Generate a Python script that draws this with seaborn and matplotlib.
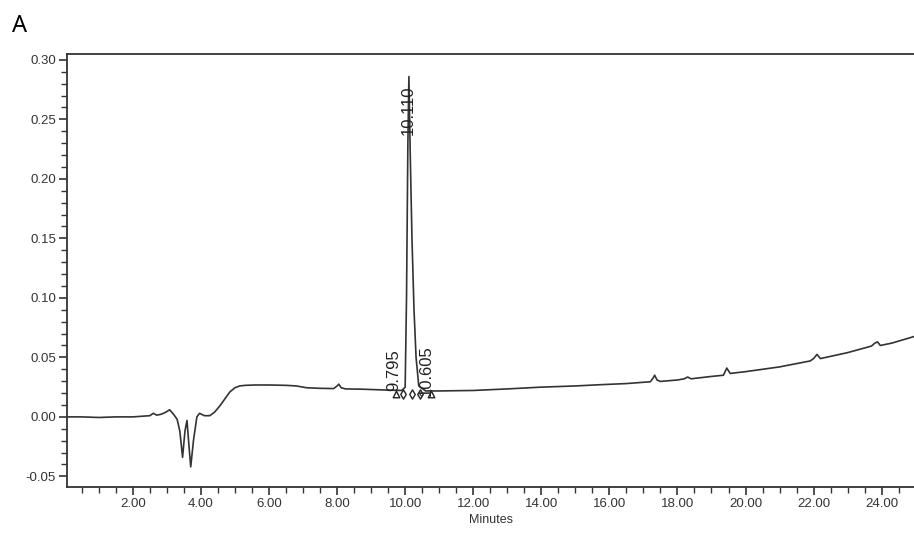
import numpy as np
import pandas as pd
import matplotlib
matplotlib.use("Agg")
import matplotlib.pyplot as plt
import seaborn as sns
from matplotlib.ticker import MultipleLocator, FormatStrFormatter

# retention time (min) and detector response
minutes = [0.07, 0.5, 1.0, 1.5, 2.0, 2.5, 2.6, 2.7, 2.8, 2.9, 3.0, 3.08, 3.2, 3.3,
           3.38, 3.46, 3.53, 3.59, 3.65, 3.70, 3.78, 3.88, 3.96, 4.1, 4.26, 4.4,
           4.55, 4.7, 4.85, 5.0, 5.14, 5.3, 5.6, 6.0, 6.5, 6.8, 7.1, 7.5, 7.9,
           8.0, 8.05, 8.12, 8.25, 8.7, 9.2, 9.6, 9.9, 10.0, 10.04, 10.08, 10.11,
           10.15, 10.2, 10.26, 10.32, 10.4, 10.6, 11.0, 12.0, 13.0, 14.0, 15.0,
           15.7, 16.5, 17.2, 17.27, 17.33, 17.4, 17.5, 18.0, 18.2, 18.3, 18.4,
           19.0, 19.35, 19.45, 19.55, 20.0, 21.0, 21.9, 22.0, 22.1, 22.2, 23.0,
           23.7, 23.8, 23.88, 23.96, 24.3, 24.95]
response = [0.0, 0.0, -0.0005, 0.0, 0.0, 0.001, 0.003, 0.0015, 0.002, 0.003,
            0.0045, 0.006, 0.002, -0.002, -0.012, -0.034, -0.012, -0.003, -0.025,
            -0.042, -0.02, 0.0, 0.003, 0.001, 0.001, 0.004, 0.009, 0.015, 0.021,
            0.0245, 0.026, 0.0265, 0.0268, 0.0268, 0.0265, 0.026, 0.0245, 0.024,
            0.0238, 0.026, 0.0275, 0.0245, 0.0235, 0.0233, 0.0228, 0.0224, 0.0222,
            0.025, 0.10, 0.23, 0.286, 0.22, 0.15, 0.09, 0.05, 0.026, 0.0218,
            0.0218, 0.0222, 0.0235, 0.025, 0.026, 0.027, 0.028, 0.0295, 0.032,
            0.035, 0.031, 0.0298, 0.031, 0.032, 0.0335, 0.032, 0.034, 0.035,
            0.041, 0.0365, 0.038, 0.042, 0.047, 0.049, 0.0525, 0.049, 0.054,
            0.0595, 0.062, 0.063, 0.060, 0.062, 0.0675]

# integration markers (start/end triangles, diamonds)
tri_t = [9.72, 10.77]
dia_t = [9.94, 10.19, 10.43]
marker_level = 0.0192

# peak labels
peak_labels = ["9.795", "10.110", "10.605"]
label_x = [9.67, 10.10, 10.61]
label_y = [0.0395, 0.258, 0.039]

df = pd.DataFrame({"Minutes": minutes, "AU": response})

sns.set_style("ticks")
plt.rcParams["font.family"] = ["Liberation Sans", "DejaVu Sans"]

fig = plt.figure(figsize=(9.14, 5.39), dpi=100)
ax = fig.add_axes([0.0735, 0.0965, 0.9265, 0.8035])

sns.lineplot(data=df, x="Minutes", y="AU", color="#333333", linewidth=1.2,
             estimator=None, sort=False, ax=ax)

ax.scatter(tri_t, [marker_level] * len(tri_t), marker="^", s=22,
           facecolors="white", edgecolors="#222222", linewidths=1.0, zorder=3)
ax.scatter(dia_t, [marker_level] * len(dia_t), marker="d", s=22,
           facecolors="white", edgecolors="#222222", linewidths=1.0, zorder=3)

for lab, lx, ly in zip(peak_labels, label_x, label_y):
    ax.text(lx, ly, lab, rotation=90, ha="center", va="center",
            fontsize=12, color="#222222", zorder=4)

ax.set_xlim(0.07, 24.95)
ax.set_ylim(-0.0589, 0.305)

ax.xaxis.set_major_locator(MultipleLocator(2))
ax.xaxis.set_minor_locator(MultipleLocator(0.5))
ax.yaxis.set_major_locator(MultipleLocator(0.05))
ax.yaxis.set_minor_locator(MultipleLocator(0.01))
ax.xaxis.set_major_formatter(FormatStrFormatter("%.2f"))
ax.yaxis.set_major_formatter(FormatStrFormatter("%.2f"))

ax.tick_params(axis="both", which="major", length=6, width=1.2,
               labelsize=9.5, labelcolor="#333333", color="#333333", pad=2)
ax.tick_params(axis="both", which="minor", length=4, width=1.0, color="#333333")

for side in ["left", "bottom", "top"]:
    ax.spines[side].set_visible(True)
    ax.spines[side].set_color("#333333")
    ax.spines[side].set_linewidth(1.3)
ax.spines["right"].set_visible(False)

ax.set_xlabel("Minutes", fontsize=9, color="#333333", labelpad=3)
ax.set_ylabel("")

fig.text(0.0135, 0.94, "A", fontsize=17, color="black",
         family=["Noto Sans", "DejaVu Sans"])

fig.savefig("out.png", dpi=100)
